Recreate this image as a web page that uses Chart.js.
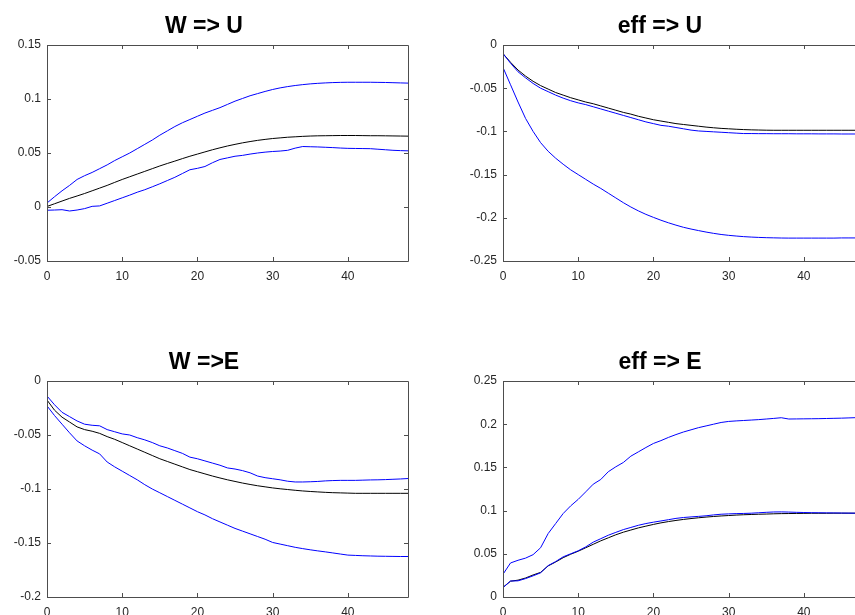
<!DOCTYPE html>
<html>
<head>
<meta charset="utf-8">
<script src="https://cdn.jsdelivr.net/npm/chart.js@4"></script>
<style>
  html, body { margin: 0; padding: 0; background: #fff; overflow: hidden; width: 855px; height: 615px; }
  canvas { position: absolute; }
</style>
</head>
<body>
<canvas id="wu" width="430" height="300" style="left:0;top:0"></canvas>
<canvas id="eu" width="430" height="300" style="left:456px;top:0"></canvas>
<canvas id="we" width="430" height="300" style="left:0;top:336px"></canvas>
<canvas id="ee" width="430" height="300" style="left:456px;top:336px"></canvas>
<script>
'use strict';

// ---- horizon 0..48 ----
const horizon = Array.from({ length: 49 }, (_, i) => i);
const xTicks = [0, 10, 20, 30, 40];

// ---- W => U ----
const wuHi = [0.0037,0.0095,0.015,0.020,0.0255,0.029,0.032,0.0355,0.039,0.043,0.0465,0.050,0.054,0.058,0.062,0.0665,0.0705,0.0745,0.078,0.081,0.084,0.087,0.0895,0.092,0.095,0.098,0.1005,0.103,0.105,0.107,0.1088,0.1103,0.1115,0.1125,0.1133,0.114,0.1145,0.1149,0.1152,0.1154,0.1155,0.1155,0.1155,0.1155,0.1154,0.1153,0.1151,0.1149,0.1147];
const wuMid = [0.0005,0.003,0.0055,0.008,0.0102,0.0125,0.015,0.0175,0.020,0.0228,0.0255,0.028,0.0305,0.033,0.0355,0.038,0.0403,0.0425,0.0448,0.047,0.049,0.051,0.053,0.0548,0.0565,0.058,0.0594,0.0606,0.0617,0.0626,0.0634,0.064,0.0646,0.065,0.0654,0.0657,0.0659,0.066,0.0661,0.0662,0.0662,0.0662,0.0661,0.066,0.066,0.0659,0.0658,0.0657,0.0656];
const wuLo = [-0.003,-0.0028,-0.0025,-0.0037,-0.0028,-0.0015,0.0006,0.001,0.0035,0.006,0.0085,0.011,0.0137,0.016,0.0187,0.0215,0.0245,0.0275,0.031,0.0345,0.0358,0.0375,0.041,0.044,0.0455,0.047,0.0478,0.049,0.050,0.0508,0.0514,0.0518,0.0525,0.0545,0.056,0.0558,0.0556,0.0553,0.055,0.0546,0.0543,0.0542,0.0541,0.054,0.0535,0.053,0.0525,0.0522,0.052];

// ---- eff => U ----
const euHi = [-0.010,-0.021,-0.031,-0.038,-0.0445,-0.050,-0.054,-0.058,-0.0615,-0.0645,-0.067,-0.069,-0.0715,-0.074,-0.0765,-0.079,-0.0815,-0.084,-0.0865,-0.089,-0.091,-0.093,-0.094,-0.0955,-0.097,-0.0985,-0.0995,-0.100,-0.1005,-0.101,-0.1015,-0.102,-0.1025,-0.1025,-0.1026,-0.1026,-0.1027,-0.1027,-0.1027,-0.1028,-0.1028,-0.1028,-0.1029,-0.1029,-0.1029,-0.103,-0.103,-0.103,-0.103];
const euMid = [-0.010,-0.020,-0.029,-0.036,-0.042,-0.047,-0.051,-0.055,-0.058,-0.061,-0.0635,-0.066,-0.068,-0.0705,-0.073,-0.0755,-0.078,-0.080,-0.0825,-0.0845,-0.0865,-0.088,-0.0895,-0.091,-0.092,-0.093,-0.094,-0.095,-0.0958,-0.0965,-0.097,-0.0975,-0.0979,-0.0982,-0.0984,-0.0986,-0.0987,-0.0987,-0.0987,-0.0987,-0.0987,-0.0987,-0.0987,-0.0987,-0.0987,-0.0987,-0.0987,-0.0987,-0.0987];
const euLo = [-0.026,-0.046,-0.066,-0.085,-0.100,-0.113,-0.123,-0.131,-0.138,-0.1445,-0.150,-0.1555,-0.161,-0.166,-0.1715,-0.177,-0.1825,-0.1875,-0.192,-0.196,-0.1995,-0.2028,-0.2058,-0.2085,-0.211,-0.213,-0.2148,-0.2165,-0.218,-0.2193,-0.2203,-0.2211,-0.2218,-0.2223,-0.2227,-0.223,-0.2232,-0.2234,-0.2235,-0.2235,-0.2235,-0.2235,-0.2235,-0.2235,-0.2235,-0.2233,-0.2233,-0.2233,-0.2233];

// ---- W => E ----
const weHi = [-0.0139,-0.022,-0.029,-0.033,-0.037,-0.040,-0.041,-0.0415,-0.045,-0.047,-0.049,-0.050,-0.0525,-0.0545,-0.057,-0.060,-0.062,-0.0645,-0.067,-0.0705,-0.072,-0.074,-0.076,-0.078,-0.0805,-0.0815,-0.083,-0.085,-0.088,-0.0895,-0.0905,-0.0915,-0.0928,-0.0935,-0.0935,-0.0933,-0.093,-0.0925,-0.0922,-0.092,-0.092,-0.092,-0.0918,-0.0916,-0.0915,-0.0913,-0.091,-0.0907,-0.0903];
const weMid = [-0.0176,-0.027,-0.0335,-0.038,-0.0425,-0.045,-0.0465,-0.0485,-0.0515,-0.054,-0.057,-0.060,-0.063,-0.066,-0.069,-0.072,-0.0745,-0.077,-0.0795,-0.082,-0.084,-0.086,-0.088,-0.0898,-0.0915,-0.093,-0.0945,-0.0958,-0.097,-0.098,-0.099,-0.0998,-0.1005,-0.1012,-0.1018,-0.1023,-0.1027,-0.1031,-0.1034,-0.1036,-0.1038,-0.104,-0.104,-0.104,-0.104,-0.104,-0.104,-0.104,-0.104];
const weLo = [-0.023,-0.032,-0.040,-0.048,-0.0555,-0.060,-0.064,-0.0675,-0.075,-0.0795,-0.0835,-0.0875,-0.0915,-0.096,-0.100,-0.1035,-0.107,-0.1105,-0.114,-0.1175,-0.121,-0.124,-0.1275,-0.1305,-0.1335,-0.1365,-0.139,-0.1415,-0.144,-0.1465,-0.1495,-0.151,-0.1525,-0.154,-0.1552,-0.1563,-0.1573,-0.1582,-0.1592,-0.1602,-0.1612,-0.1615,-0.1618,-0.162,-0.1622,-0.1623,-0.1624,-0.1625,-0.1625];

// ---- eff => E ----
const eeHi = [0.0263,0.0394,0.0425,0.045,0.049,0.057,0.0734,0.085,0.0966,0.1055,0.113,0.1217,0.1306,0.136,0.145,0.1507,0.1557,0.163,0.168,0.173,0.1777,0.181,0.1847,0.188,0.191,0.1935,0.196,0.198,0.200,0.202,0.2032,0.2038,0.2043,0.2048,0.2053,0.206,0.2067,0.2075,0.206,0.2061,0.2062,0.2063,0.2064,0.2066,0.2068,0.207,0.2073,0.2076,0.2078];
const eeMid = [0.0112,0.0183,0.0195,0.022,0.0255,0.0285,0.036,0.0405,0.0455,0.0495,0.053,0.057,0.061,0.065,0.0685,0.072,0.075,0.0775,0.080,0.082,0.084,0.0858,0.0873,0.0886,0.0898,0.0908,0.0917,0.0925,0.0932,0.0938,0.0943,0.0948,0.0952,0.0955,0.0958,0.096,0.0963,0.0965,0.0966,0.0967,0.0968,0.0969,0.0969,0.0969,0.097,0.097,0.097,0.097,0.097];
const eeLo = [0.0108,0.0185,0.0187,0.0213,0.0245,0.028,0.0363,0.041,0.0465,0.050,0.0535,0.058,0.0635,0.0675,0.0715,0.0748,0.078,0.0805,0.083,0.085,0.0866,0.088,0.0895,0.091,0.092,0.0927,0.0933,0.094,0.095,0.0958,0.0962,0.0965,0.0967,0.097,0.0975,0.098,0.0984,0.0985,0.0983,0.098,0.0978,0.0976,0.0975,0.0974,0.0973,0.0972,0.0971,0.097,0.097];

const AXIS = '#262626';
const BOX = '#4d4d4d';
const FONT = "'Liberation Sans', Arial, Helvetica, sans-serif";

// MATLAB-like box with inward ticks on every side
const boxTicks = {
  id: 'boxTicks',
  afterDatasetsDraw(chart) {
    const { ctx, chartArea: a, scales: { x, y } } = chart;
    const len = 4;
    ctx.save();
    ctx.strokeStyle = BOX;
    ctx.lineWidth = 1;
    ctx.beginPath();
    ctx.rect(Math.round(a.left) + 0.5, Math.round(a.top) + 0.5,
             Math.round(a.right - a.left), Math.round(a.bottom - a.top));
    x.ticks.forEach(t => {
      const px = Math.round(x.getPixelForValue(t.value)) + 0.5;
      ctx.moveTo(px, a.bottom); ctx.lineTo(px, a.bottom - len);
      ctx.moveTo(px, a.top);    ctx.lineTo(px, a.top + len);
    });
    y.ticks.forEach(t => {
      const py = Math.round(y.getPixelForValue(t.value)) + 0.5;
      ctx.moveTo(a.left, py);  ctx.lineTo(a.left + len, py);
      ctx.moveTo(a.right, py); ctx.lineTo(a.right - len, py);
    });
    ctx.stroke();
    ctx.restore();
  }
};

function line(data, color) {
  return { data, borderColor: color, borderWidth: 1, pointRadius: 0, tension: 0, fill: false };
}

function makePanel(id, title, yMin, yMax, hi, mid, lo) {
  new Chart(document.getElementById(id), {
    type: 'line',
    data: {
      labels: horizon,
      datasets: [line(hi, '#0000ff'), line(lo, '#0000ff'), line(mid, '#000000')]
    },
    options: {
      responsive: false,
      animation: false,
      events: [],
      layout: { padding: { left: 0, right: 22, top: 0, bottom: 0 } },
      plugins: {
        legend: { display: false },
        tooltip: { enabled: false },
        title: {
          display: true, text: title, color: '#000',
          font: { family: FONT, size: 23, weight: 'bold', lineHeight: 1.2 },
          padding: { top: 13, bottom: 4.4 }
        }
      },
      scales: {
        x: {
          type: 'linear', min: 0, max: 48,
          afterBuildTicks: s => { s.ticks = xTicks.map(v => ({ value: v })); },
          afterFit: s => { s.height = 39; },
          grid: { display: false, drawTicks: false },
          border: { display: false },
          ticks: { color: AXIS, padding: 8, font: { family: FONT, size: 12 }, callback: v => String(v) }
        },
        y: {
          min: yMin, max: yMax,
          afterFit: s => { s.width = 47; },
          grid: { display: false, drawTicks: false },
          border: { display: false },
          ticks: { color: AXIS, padding: 6, stepSize: 0.05, font: { family: FONT, size: 12 },
                   callback: v => String(+v.toFixed(3)) }
        }
      }
    },
    plugins: [boxTicks]
  });
}

makePanel('wu', 'W => U', -0.05, 0.15, wuHi, wuMid, wuLo);
makePanel('eu', 'eff => U', -0.25, 0, euHi, euMid, euLo);
makePanel('we', 'W =>E', -0.2, 0, weHi, weMid, weLo);
makePanel('ee', 'eff => E', 0, 0.25, eeHi, eeMid, eeLo);
</script>
</body>
</html>
